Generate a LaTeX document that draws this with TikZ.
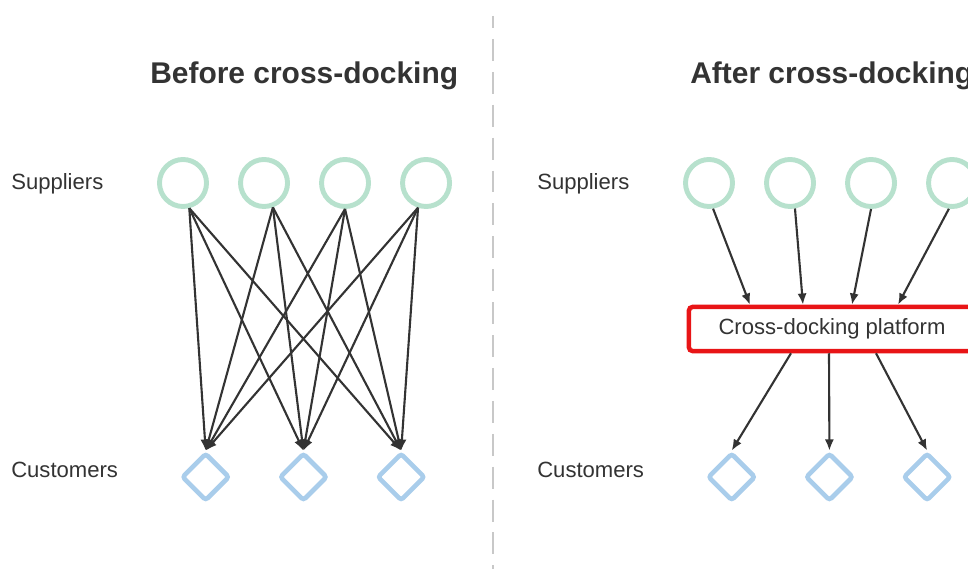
\documentclass[tikz,border=0pt]{standalone}
\usepackage{fontspec}
\setmainfont{Liberation Sans}
\usetikzlibrary{arrows.meta,positioning,shapes.geometric}
\definecolor{ink}{HTML}{333333}
\definecolor{mint}{HTML}{B7E1CD}
\definecolor{sky}{HTML}{A9CDEB}
\definecolor{alarm}{HTML}{E81416}
\definecolor{divgray}{HTML}{C8C8C8}

\begin{document}
\begin{tikzpicture}[x=0.025cm, y=-0.025cm]
                \tikzstyle{supplier}=[draw=mint, circle, line width=3.5pt, minimum size=1.175cm, inner sep=0pt, node distance=2.025cm]
                \tikzstyle{customer}=[draw=sky, diamond, line width=3.3pt, rounded corners=2pt, minimum size=1.2cm, inner sep=0pt, node distance=2.4425cm]
                \tikzstyle{platform}=[draw=alarm, line width=3.2pt, rounded corners=2.5pt, minimum width=7.15cm, minimum height=1.1cm, inner sep=0pt, text=ink, font=\fontsize{15.7}{18}\selectfont]
                \tikzstyle{edge}=[-{Latex[length=8pt,width=6.5pt]}, line width=1.5pt, draw=ink]
                \tikzstyle{tag}=[inner sep=0pt, anchor=base west, text=ink, font=\fontsize{15.7}{18}\selectfont]
                \tikzstyle{heading}=[tag, font=\bfseries\fontsize{21.3}{25}\selectfont]
                
                \useasboundingbox (0,0) rectangle (968,569);
                \clip (0,0) rectangle (968,569);
                
                % divider
                \draw[divgray, line width=1.4pt, dash pattern=on 15.6pt off 7.8pt, dash phase=7.1pt] (493,16) -- (493,569);
                
                \node[heading] (before) at (150,84) {Before cross-docking};
                \node[heading] (after) at (690,84) {After cross-docking};
                
                \node[tag] (sl) at (11,190) {Suppliers};
                \node[tag] (cl) at (11,478) {Customers};
                \node[tag] (sr) at (537,190) {Suppliers};
                \node[tag] (cr) at (537,478) {Customers};
                
                % before
                \node[supplier] (s1) at (183,183) {};
                \node[supplier, right of=s1] (s2) {};
                \node[supplier, right of=s2] (s3) {};
                \node[supplier, right of=s3] (s4) {};
                \node[customer] (c1) at (205.7,477) {};
                \node[customer, right of=c1] (c2) {};
                \node[customer, right of=c2] (c3) {};
                
                \draw[edge] (s1.-76) -- (c1.north);
                \draw[edge] (s1.-76) -- (c2.north);
                \draw[edge] (s1.-76) -- (c3.north);
                \draw[edge] (s2.-70) -- (c1.north);
                \draw[edge] (s2.-70) -- (c2.north);
                \draw[edge] (s2.-70) -- (c3.north);
                \draw[edge] (s3.-90) -- (c1.north);
                \draw[edge] (s3.-90) -- (c2.north);
                \draw[edge] (s3.-90) -- (c3.north);
                \draw[edge] (s4.-108) -- (c1.north);
                \draw[edge] (s4.-108) -- (c2.north);
                \draw[edge] (s4.-108) -- (c3.north);
                
                % after
                \node[supplier] (t1) at (709,183) {};
                \node[supplier, right of=t1] (t2) {};
                \node[supplier, right of=t2] (t3) {};
                \node[supplier, right of=t3] (t4) {};
                \node[platform] (pf) at (832,329) {Cross-docking platform};
                \node[customer] (d1) at (731.7,477) {};
                \node[customer, right of=d1] (d2) {};
                \node[customer, right of=d2] (d3) {};
                
                \draw[edge] (t1.-81) -- ([xshift=-2.05cm]pf.north);
                \draw[edge] (t2.-79) -- ([xshift=-0.725cm]pf.north);
                \draw[edge] (t3.-90) -- ([xshift=0.5cm]pf.north);
                \draw[edge] (t4.-97) -- ([xshift=1.65cm]pf.north);
                \draw[edge] ([xshift=-1.025cm]pf.south) -- (d1.north);
                \draw[edge] ([xshift=-0.075cm]pf.south) -- (d2.north);
                \draw[edge] ([xshift=1.1cm]pf.south) -- (d3.north);
            \end{tikzpicture}
\end{document}
